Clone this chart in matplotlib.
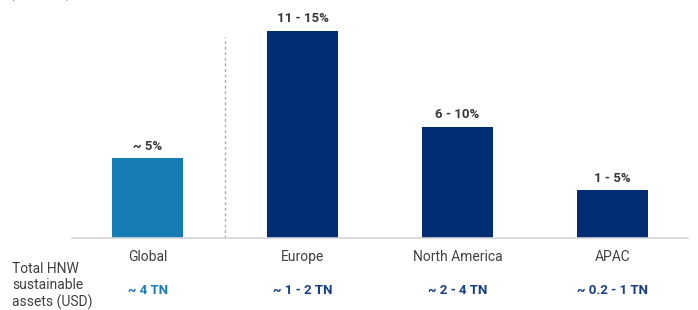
import matplotlib
matplotlib.use("Agg")
import matplotlib.pyplot as plt

plt.rcParams['font.family'] = ['Roboto', 'DejaVu Sans']

categories = ["Global", "Europe", "North America", "APAC"]
values = [5, 13, 7, 3]
value_labels = ["~ 5%", "11 - 15%", "6 - 10%", "1 - 5%"]
asset_labels = ["~ 4 TN", "~ 1 - 2 TN", "~ 2 - 4 TN", "~ 0.2 - 1 TN"]
bar_colors = ["#157DB3", "#022D72", "#022D72", "#022D72"]
asset_colors = ["#1A7DB8", "#153F86", "#153F86", "#153F86"]

fig = plt.figure(figsize=(6.98, 3.10), dpi=100)
ax = fig.add_axes([72/698, 72/310, (688-72)/698, 238/310])
x = list(range(len(categories)))
ax.bar(x, values, width=0.46, color=bar_colors, zorder=2)
ax.set_xlim(-0.49, 3.49)
ax.set_ylim(0, 14.95)
for s in ["top", "right", "left"]:
    ax.spines[s].set_visible(False)
ax.spines["bottom"].set_color("#d4d4d4")
ax.spines["bottom"].set_linewidth(1.2)
ax.set_yticks([])
ax.set_xticks(x)
ax.set_xticklabels(categories, fontsize=10, color="#404040")
ax.tick_params(axis="x", length=0, pad=8.5)

for xi, v, lab in zip(x, values, value_labels):
    ax.annotate(lab, (xi, v), xytext=(0, 4), textcoords="offset points",
                ha="center", va="bottom", fontsize=9.5, fontweight="bold", color="#383838")

ax.plot([0.5, 0.5], [0, 12.6], linestyle=(0, (2, 2)), color="#aaaaaa", linewidth=1, zorder=1)

for xi, lab, c in zip(x, asset_labels, asset_colors):
    ax.annotate(lab, (xi, 0), xycoords="data", xytext=(0, -37.5), textcoords="offset points",
                ha="center", va="center", fontsize=9.5, fontweight="bold", color=c)

fig.text(12/698, 1 - 286/310, "Total HNW\nsustainable\nassets (USD)", ha="left", va="center",
         fontsize=10, color="#404040", linespacing=1.2)

fig.text(10/698, 1 + 6/310, "(% of total)", ha="left", va="center", fontsize=9, color="#555555")

fig.savefig("out.png", dpi=100)
